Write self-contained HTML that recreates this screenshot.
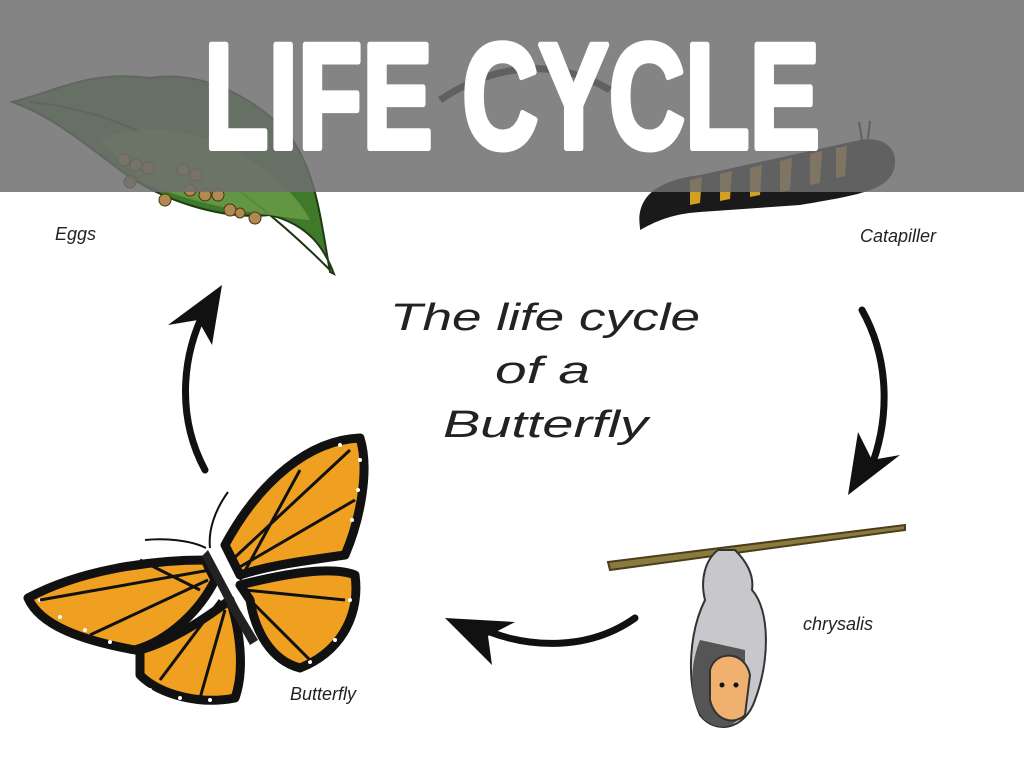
<!DOCTYPE html>
<html><head><meta charset="utf-8"><style>
html,body{margin:0;padding:0;background:#fff;width:1024px;height:768px;overflow:hidden}
svg{display:block}
</style></head><body>
<svg width="1024" height="768" viewBox="0 0 1024 768" xmlns="http://www.w3.org/2000/svg">
<rect width="1024" height="768" fill="#fff"/>
<path d="M12 102 C60 90 90 70 150 78 C200 70 250 95 285 130 C315 165 320 215 330 272 L334 274 C325 250 310 225 270 215 C220 220 160 200 120 170 C80 140 50 115 12 102 Z" fill="#3f7a2a" stroke="#1f3a14" stroke-width="2"/>
<path d="M30 102 C120 110 220 160 330 270" stroke="#1c3410" stroke-width="2" fill="none"/>
<path d="M100 140 C150 120 200 130 250 160 C280 180 300 200 310 220 C260 215 190 205 140 180 Z" fill="#6c9e4a" opacity="0.8"/>
<g fill="#b08a50" stroke="#4a3418" stroke-width="1">
<circle cx="124" cy="160" r="6"/><circle cx="136" cy="165" r="6"/><circle cx="148" cy="168" r="6"/>
<circle cx="130" cy="182" r="6"/><circle cx="183" cy="170" r="6"/><circle cx="196" cy="175" r="6"/>
<circle cx="190" cy="190" r="6"/><circle cx="205" cy="195" r="6"/><circle cx="218" cy="195" r="6"/>
<circle cx="165" cy="200" r="6"/><circle cx="230" cy="210" r="6"/><circle cx="255" cy="218" r="6"/>
<circle cx="240" cy="213" r="5"/>
</g>
<path d="M440 100 C500 60 560 60 610 90" stroke="#111" stroke-width="7" fill="none"/>
<path d="M640 228 C635 195 660 180 700 175 L860 140 C890 135 900 155 893 172 C885 190 860 195 800 205 L700 212 C670 214 655 222 640 230 Z" fill="#1a1a1a"/>
<g fill="#d4a020">
<path d="M690 180 l12 -3 l-2 26 l-10 2z"/><path d="M720 174 l12 -3 l-2 28 l-10 2z"/>
<path d="M750 168 l12 -3 l-2 30 l-10 2z"/><path d="M780 161 l12 -3 l-2 32 l-10 2z"/>
<path d="M810 154 l12 -3 l-2 32 l-10 2z"/><path d="M836 148 l11 -2 l-2 30 l-9 2z"/>
</g>
<path d="M862 140 l-3 -18 M868 139 l2 -18" stroke="#111" stroke-width="2"/>
<rect x="0" y="0" width="1024" height="192" fill="#6e6e6e" opacity="0.85"/>
<text x="204" y="148" textLength="616" lengthAdjust="spacingAndGlyphs" font-family="Liberation Sans Narrow, Liberation Sans, sans-serif" font-weight="bold" font-size="150" fill="#fff" stroke="#fff" stroke-width="6" stroke-linejoin="round">LIFE CYCLE</text>
<g font-family="Liberation Sans, sans-serif" font-style="italic" fill="#222" font-size="18">
<text x="55" y="240">Eggs</text>
<text x="860" y="242">Catapiller</text>
<text x="803" y="630">chrysalis</text>
<text x="290" y="700">Butterfly</text>
</g>
<g font-family="Liberation Sans, sans-serif" font-style="italic" fill="#222" font-size="38">
<text x="390" y="330" textLength="310" lengthAdjust="spacingAndGlyphs">The life cycle</text>
<text x="495" y="383" textLength="95" lengthAdjust="spacingAndGlyphs">of a</text>
<text x="443" y="437" textLength="205" lengthAdjust="spacingAndGlyphs">Butterfly</text>
</g>
<g stroke="#111" stroke-width="7" fill="none" stroke-linecap="round">
<path d="M205 470 C178 420 180 360 205 310"/>
<path d="M862 310 C890 360 890 420 870 470"/>
<path d="M635 618 C590 650 530 650 480 628"/>
</g>
<g fill="#111">
<path d="M222 285 L168 325 L198 320 L212 345 Z"/>
<path d="M848 495 L900 455 L872 460 L858 432 Z"/>
<path d="M445 618 L492 665 L488 636 L515 622 Z"/>
</g>
<path d="M608 562 L905 525 L905 530 L610 570 Z" fill="#8a7a40" stroke="#4a3f1a" stroke-width="2"/>
<path d="M718 550 C705 560 700 580 705 600 C690 630 685 680 700 715 C715 735 745 730 755 700 C770 660 770 610 752 590 C755 570 740 555 735 550 Z" fill="#c8c8cc" stroke="#333" stroke-width="2"/>
<path d="M700 640 C688 670 690 705 705 720 C720 732 740 728 745 705 L745 650 Z" fill="#555"/>
<path d="M710 670 C715 650 745 650 750 675 L745 715 C735 725 715 722 710 700 Z" fill="#f0b070" stroke="#333" stroke-width="2"/>
<circle cx="722" cy="685" r="2.5" fill="#111"/><circle cx="736" cy="685" r="2.5" fill="#111"/>
<g stroke="#111" stroke-width="9" stroke-linejoin="round">
<path d="M225 545 C260 480 310 440 360 438 C370 470 360 520 345 555 C310 560 270 565 240 575 Z" fill="#f0a020"/>
<path d="M240 585 C280 575 330 565 355 575 C360 610 345 650 300 668 C270 660 255 630 250 600 Z" fill="#f0a020"/>
<path d="M205 560 C150 560 80 570 28 598 C40 625 80 640 135 650 C170 640 200 610 215 580 Z" fill="#f0a020"/>
<path d="M140 650 C175 640 210 615 230 600 C240 630 245 670 235 698 C200 705 160 695 140 675 Z" fill="#f0a020"/>
</g>
<g fill="#fff">
<circle cx="360" cy="460" r="2"/><circle cx="358" cy="490" r="2"/><circle cx="352" cy="520" r="2"/><circle cx="340" cy="445" r="2"/>
<circle cx="40" cy="600" r="2"/><circle cx="60" cy="617" r="2"/><circle cx="85" cy="630" r="2"/><circle cx="110" cy="642" r="2"/>
<circle cx="150" cy="690" r="2"/><circle cx="180" cy="698" r="2"/><circle cx="210" cy="700" r="2"/>
<circle cx="350" cy="600" r="2"/><circle cx="335" cy="640" r="2"/><circle cx="310" cy="662" r="2"/>
</g>
<g stroke="#111" stroke-width="3" fill="none">
<path d="M232 560 L350 450 M238 568 L355 500 M240 580 L300 470 M245 590 L345 600 M250 600 L310 660"/>
<path d="M210 570 L40 600 M208 580 L90 635 M200 590 L140 560 M220 600 L160 680 M225 610 L200 698"/>
</g>
<path d="M208 550 L240 610 L258 640 L250 645 L230 610 L202 556 Z" fill="#222"/>
<path d="M210 548 C208 530 215 510 228 492 M206 548 C190 540 165 538 145 540" stroke="#111" stroke-width="2" fill="none"/>
</svg>
</body></html>
